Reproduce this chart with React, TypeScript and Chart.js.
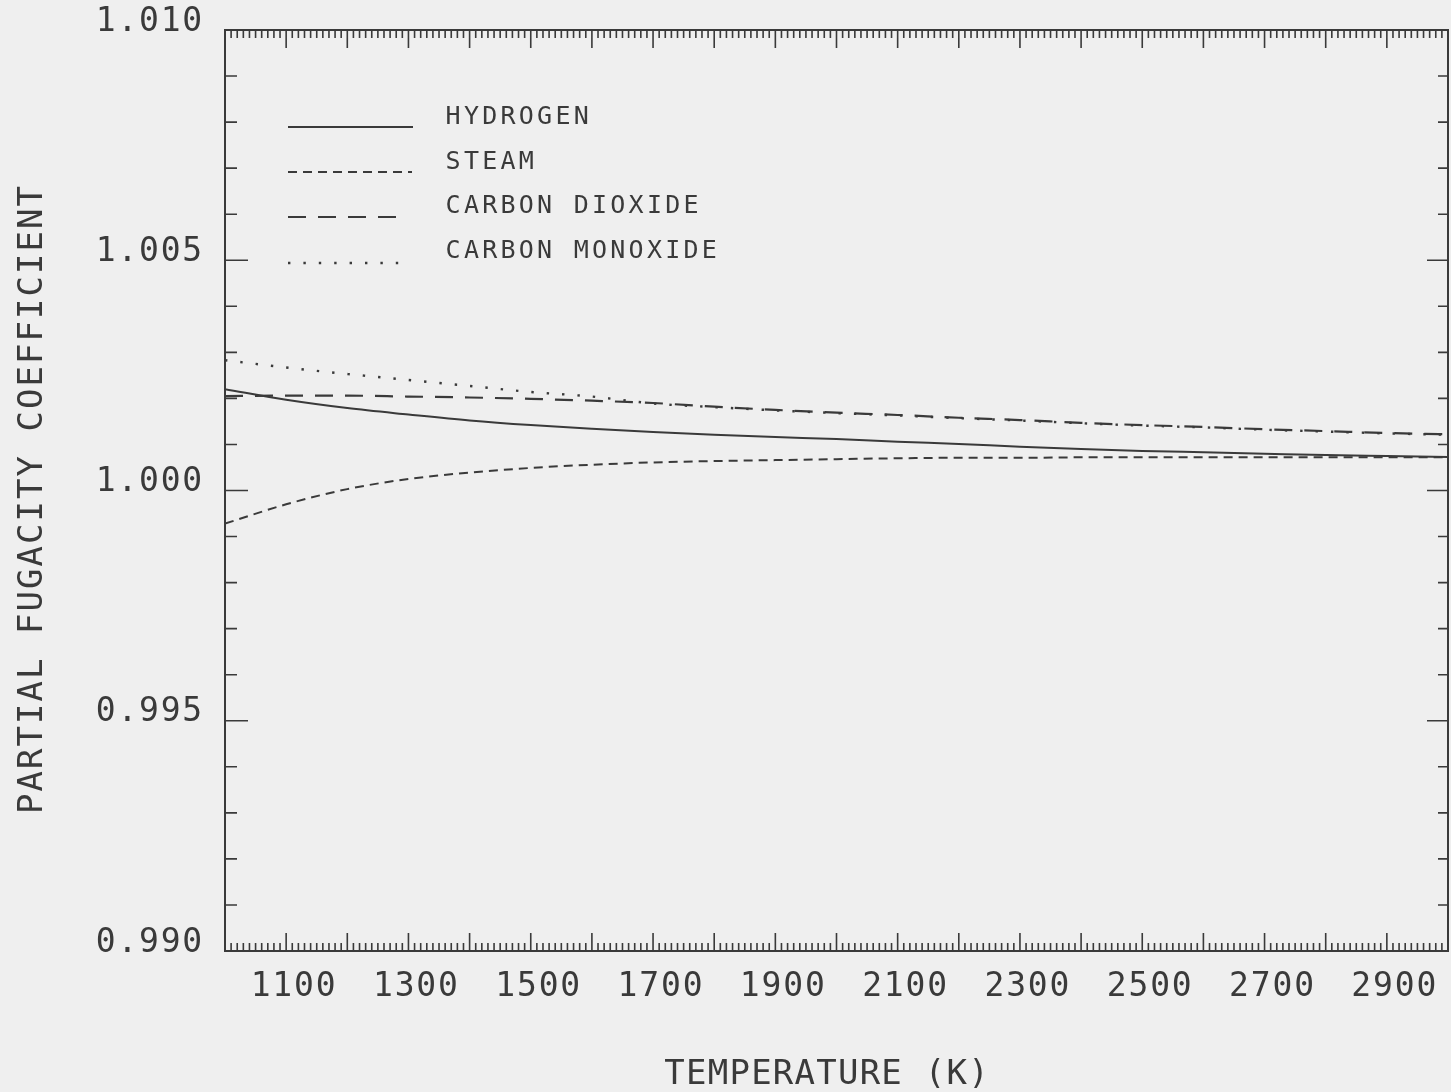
import { useEffect, useRef } from 'react';
import { Chart, registerables } from 'chart.js';

Chart.register(...registerables);

// Temperature grid (K) and partial fugacity coefficients for each gas
const temperatures = [1000, 1100, 1200, 1300, 1400, 1500, 1600, 1700, 1800, 1900, 2000, 2100, 2200, 2300, 2400, 2500, 2600, 2700, 2800, 2900, 3000];

const hydrogen = [1.0022, 1.00197, 1.00179, 1.00165, 1.00152, 1.00142, 1.00134, 1.00127, 1.00121, 1.00116, 1.00112, 1.00106, 1.00101, 1.00095, 1.0009, 1.00086, 1.00083, 1.0008, 1.00077, 1.00075, 1.00073];

const steam = [0.99928, 0.9997, 1.00003, 1.00025, 1.00039, 1.00049, 1.00056, 1.00061, 1.00064, 1.00066, 1.00068, 1.0007, 1.00071, 1.00071, 1.00072, 1.00072, 1.00072, 1.00072, 1.00072, 1.00072, 1.00072];

const carbonDioxide = [1.00205, 1.00206, 1.00206, 1.00204, 1.00202, 1.00199, 1.00195, 1.0019, 1.00182, 1.00175, 1.00169, 1.00164, 1.00158, 1.00153, 1.00147, 1.00142, 1.00138, 1.00133, 1.00129, 1.00125, 1.00122];

const carbonMonoxide = [1.00283, 1.00267, 1.00253, 1.0024, 1.00227, 1.00214, 1.00204, 1.00189, 1.00181, 1.00174, 1.00168, 1.00163, 1.00157, 1.00152, 1.00146, 1.00141, 1.00137, 1.00132, 1.00128, 1.00124, 1.00121];

const seriesNames = ['HYDROGEN', 'STEAM', 'CARBON DIOXIDE', 'CARBON MONOXIDE'];

const xTickValues = [1100, 1300, 1500, 1700, 1900, 2100, 2300, 2500, 2700, 2900];
const xTickLabels = ['1100', '1300', '1500', '1700', '1900', '2100', '2300', '2500', '2700', '2900'];
const yTickValues = [1.01, 1.005, 1.0, 0.995, 0.99];
const yTickLabels = ['1.010', '1.005', '1.000', '0.995', '0.990'];

const xTitle = 'TEMPERATURE (K)';
const yTitle = 'PARTIAL FUGACITY COEFFICIENT';

const INK = '#3a3a3a';
const PAPER = '#efefef';
const FONT = '"DejaVu Sans Mono", "Liberation Mono", monospace';

// Fixed-pitch text, one glyph per cell, like a pen plotter
function plotText(
  ctx: CanvasRenderingContext2D,
  text: string,
  x: number,
  y: number,
  size: number,
  pitch: number,
  align: 'left' | 'center' | 'right'
) {
  ctx.font = `${size}px ${FONT}`;
  ctx.textAlign = 'center';
  ctx.textBaseline = 'middle';
  const total = text.length * pitch;
  let start = x;
  if (align === 'center') start = x - total / 2;
  if (align === 'right') start = x - total;
  for (let k = 0; k < text.length; k++) {
    ctx.fillText(text[k], start + k * pitch + pitch / 2, y);
  }
}

const plotterAxes = {
  id: 'plotterAxes',
  beforeDraw(chart: any) {
    const { ctx, width, height } = chart;
    ctx.save();
    ctx.fillStyle = PAPER;
    ctx.fillRect(0, 0, width, height);
    ctx.restore();
  },
  afterDraw(chart: any) {
    const { ctx, chartArea: a } = chart;
    const xs = chart.scales.x;
    const ys = chart.scales.y;
    ctx.save();
    ctx.strokeStyle = INK;
    ctx.fillStyle = INK;

    // frame
    ctx.lineWidth = 2;
    ctx.strokeRect(a.left, a.top, a.right - a.left, a.bottom - a.top);

    // inward tick marks on all four sides
    ctx.lineWidth = 1.6;
    ctx.beginPath();
    const xSteps = Math.round((xs.max - xs.min) / 10);
    for (let i = 1; i < xSteps; i++) {
      const px = xs.getPixelForValue(xs.min + i * 10);
      const len = i % 10 === 0 ? 18 : 8;
      ctx.moveTo(px, a.bottom);
      ctx.lineTo(px, a.bottom - len);
      ctx.moveTo(px, a.top);
      ctx.lineTo(px, a.top + len);
    }
    const ySteps = Math.round((ys.max - ys.min) / 0.001);
    for (let i = 1; i < ySteps; i++) {
      const py = ys.getPixelForValue(ys.min + i * 0.001);
      const major = i % 5 === 0;
      ctx.moveTo(a.left, py);
      ctx.lineTo(a.left + (major ? 23 : 12), py);
      ctx.moveTo(a.right, py);
      ctx.lineTo(a.right - (major ? 21 : 10), py);
    }
    ctx.stroke();

    // tick labels
    yTickValues.forEach((v, i) => {
      const py = ys.getPixelForValue(v);
      plotText(ctx, yTickLabels[i], 203, py - 8, 33, 21.6, 'right');
    });
    xTickValues.forEach((v, i) => {
      const px = xs.getPixelForValue(v);
      plotText(ctx, xTickLabels[i], px + 7, a.bottom + 36, 33, 21.7, 'center');
    });

    // axis titles
    plotText(ctx, xTitle, (a.left + a.right) / 2 - 10, 1075, 34, 21.7, 'center');
    ctx.save();
    ctx.translate(33, 500);
    ctx.rotate(-Math.PI / 2);
    plotText(ctx, yTitle, 0, 0, 34, 22.5, 'center');
    ctx.restore();

    // legend
    const rows = [127, 172, 217, 263];
    const textRows = [117, 162, 206, 251];
    chart.data.datasets.forEach((ds: any, i: number) => {
      ctx.save();
      ctx.strokeStyle = ds.borderColor;
      ctx.lineWidth = ds.borderWidth;
      ctx.lineCap = ds.borderCapStyle || 'butt';
      ctx.setLineDash(ds.borderDash || []);
      ctx.beginPath();
      ctx.moveTo(288, rows[i]);
      ctx.lineTo(i === 0 ? 413 : i === 1 ? 412 : 400, rows[i]);
      ctx.stroke();
      ctx.restore();
      ctx.fillStyle = INK;
      plotText(ctx, seriesNames[i], 444, textRows[i], 25, 18.3, 'left');
    });

    ctx.restore();
  },
};

export default function App() {
  const canvasRef = useRef<HTMLCanvasElement>(null);

  useEffect(() => {
    const canvas = canvasRef.current;
    if (!canvas) return;
    const toPoints = (vals: number[]) => temperatures.map((t, i) => ({ x: t, y: vals[i] }));
    const chart = new Chart(canvas, {
      type: 'line',
      data: {
        datasets: [
          {
            label: seriesNames[0],
            data: toPoints(hydrogen),
            borderColor: INK,
            borderWidth: 2,
            borderDash: [],
          },
          {
            label: seriesNames[1],
            data: toPoints(steam),
            borderColor: INK,
            borderWidth: 2,
            borderDash: [9, 6],
          },
          {
            label: seriesNames[2],
            data: toPoints(carbonDioxide),
            borderColor: INK,
            borderWidth: 2.2,
            borderDash: [18, 12],
          },
          {
            label: seriesNames[3],
            data: toPoints(carbonMonoxide),
            borderColor: INK,
            borderWidth: 2.4,
            borderDash: [2.4, 13],
          },
        ],
      },
      options: {
        responsive: false,
        animation: false,
        events: [],
        layout: { padding: { left: 225, top: 30, right: 3, bottom: 141 } },
        elements: {
          point: { radius: 0 },
          line: { cubicInterpolationMode: 'monotone', fill: false },
        },
        scales: {
          x: { type: 'linear', min: 1000, max: 3000, display: false },
          y: { type: 'linear', min: 0.99, max: 1.01, display: false },
        },
        plugins: {
          legend: { display: false },
          tooltip: { enabled: false },
        },
      },
      plugins: [plotterAxes],
    });
    return () => chart.destroy();
  }, []);

  return (
    <div style={{ position: 'fixed', left: 0, top: 0, width: 1451, height: 1092, background: PAPER }}>
      <canvas ref={canvasRef} width={1451} height={1092} style={{ display: 'block' }} />
    </div>
  );
}
